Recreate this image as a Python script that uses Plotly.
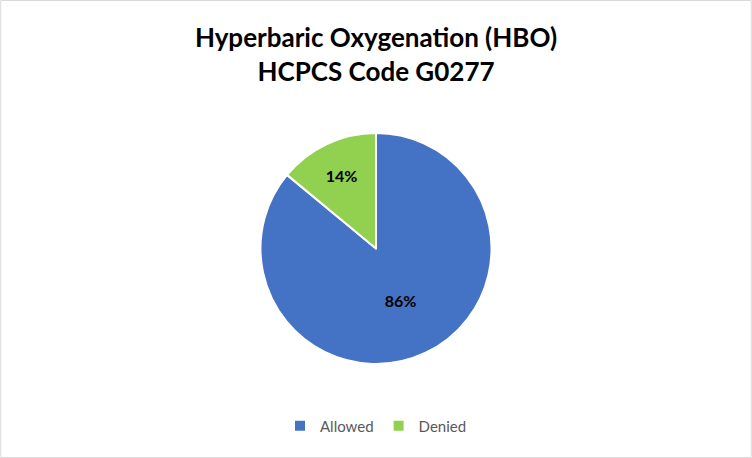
import plotly.graph_objects as go

# Data
labels = ["Allowed", "Denied"]
values = [86, 14]
colors = ["#4472C4", "#92D050"]

W, H = 752, 458

fig = go.Figure(
    go.Pie(
        labels=labels,
        values=values,
        marker=dict(colors=colors, line=dict(color="white", width=2)),
        sort=False,
        direction="clockwise",
        rotation=0,
        textinfo="percent",
        texttemplate="<b>%{percent:.0%}</b>",
        textposition="inside",
        insidetextorientation="horizontal",
        textfont=dict(family="Lato", size=16, color="black"),
        hoverinfo="label+percent",
        domain=dict(x=[0, 1], y=[94 / H, (H - 133) / H]),
    )
)

fig.update_layout(
    width=W,
    height=H,
    margin=dict(l=0, r=0, t=0, b=0),
    paper_bgcolor="white",
    plot_bgcolor="white",
    font=dict(family="Lato", color="#595959"),
    title=dict(
        text="<b>Hyperbaric Oxygenation (HBO)<br>HCPCS Code G0277</b>",
        x=0.5,
        xanchor="center",
        y=1 - 47 / H,
        yanchor="middle",
        yref="container",
        font=dict(family="Lato", size=26, color="black"),
    ),
    legend=dict(
        orientation="h",
        x=0.5,
        xanchor="center",
        y=1 - 426 / H,
        yanchor="middle",
        font=dict(family="Lato", size=15, color="#595959"),
        itemwidth=30,
    ),
    showlegend=True,
)

# Outer chart border
fig.add_shape(
    type="rect",
    xref="paper", yref="paper",
    x0=0.001, y0=0.001, x1=0.999, y1=0.999,
    line=dict(color="#D9D9D9", width=1),
)

# drop the default 8px body margin so the chart fills the window
fig.write_html(
    "out.html",
    config={"displayModeBar": False},
    post_script="document.body.style.margin='0';",
)
